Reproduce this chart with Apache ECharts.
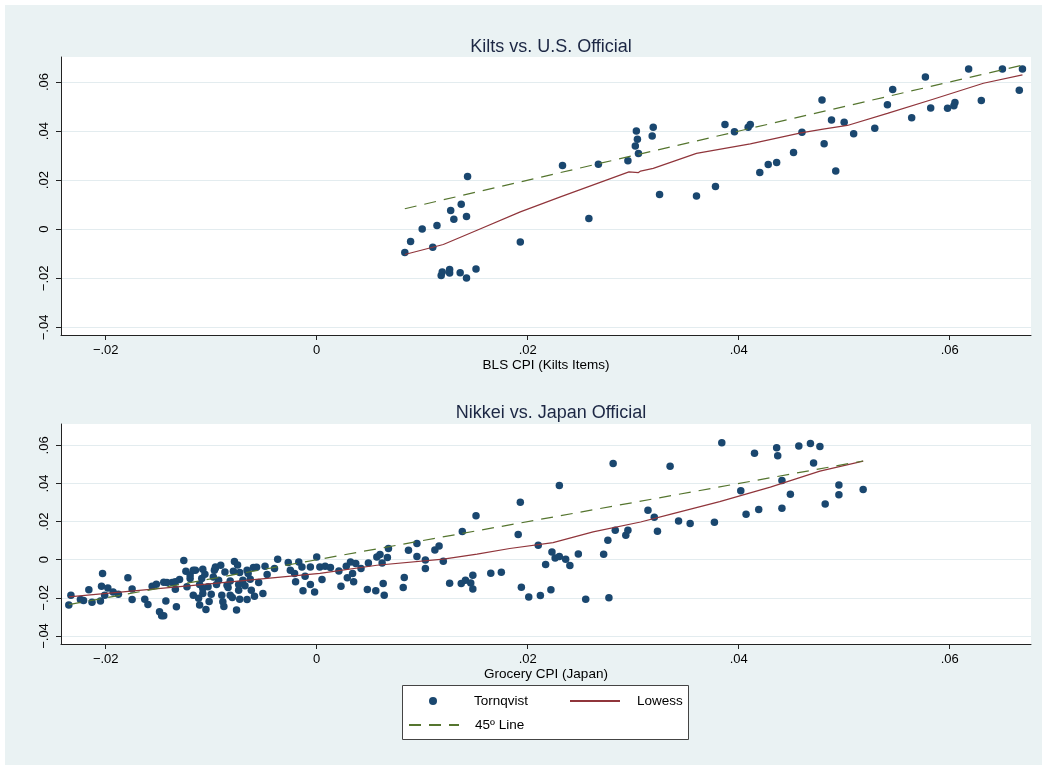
<!DOCTYPE html>
<html><head><meta charset="utf-8">
<script src="https://cdn.jsdelivr.net/npm/echarts@6/dist/echarts.min.js"></script>
<style>html,body{margin:0;padding:0;background:#fff}#c{width:1047px;height:769px}</style>
</head><body><div id="c"></div>
<script>
// ---- tick labels ----
const tickValues = [-0.04, -0.02, 0, 0.02, 0.04, 0.06];
const tickLabels = ['\u2212.04', '\u2212.02', '0', '.02', '.04', '.06'];
const xTickValues = [-0.02, 0, 0.02, 0.04, 0.06];

// ---- panel titles / axis titles / legend ----
const panelTitles = ['Kilts vs. U.S. Official', 'Nikkei vs. Japan Official'];
const xAxisTitles = ['BLS CPI (Kilts Items)', 'Grocery CPI (Japan)'];
const seriesNames = ['Tornqvist', 'Lowess', '45\u00ba Line'];

// ---- Kilts vs. U.S. Official: [BLS CPI, Kilts] ----
const kiltsPoints = [
 [0.00835,-0.0095],[0.0089,-0.0050],[0.0100,0.0001],[0.0114,0.0015],[0.0110,-0.0073],
 [0.0127,0.0076],[0.0130,0.0041],[0.0137,0.0102],[0.0142,0.0052],[0.0143,0.0215],
 [0.0118,-0.0189],[0.0119,-0.0174],[0.0126,-0.0164],[0.0126,-0.0178],[0.0136,-0.0177],
 [0.0142,-0.0199],[0.0151,-0.0162],[0.0193,-0.0052],[0.0233,0.0260],[0.0258,0.0044],
 [0.0267,0.0265],[0.0295,0.0279],[0.0305,0.0309],[0.0325,0.0142],[0.0360,0.0136],
 [0.0303,0.0400],[0.0304,0.0367],[0.0302,0.0339],[0.0319,0.0416],[0.0318,0.0380],
 [0.0378,0.0174],[0.0387,0.0427],[0.0396,0.0397],[0.0409,0.0416],[0.0411,0.0427],
 [0.0420,0.0231],[0.0428,0.0264],[0.0436,0.0272],[0.0452,0.0313],[0.0460,0.0395],
 [0.0479,0.0527],[0.0481,0.0348],[0.0488,0.0445],[0.0492,0.0237],[0.0500,0.0436],
 [0.0509,0.0389],[0.0529,0.0412],[0.0541,0.0507],[0.0546,0.0570],[0.0564,0.0454],
 [0.0577,0.0620],[0.0582,0.0494],[0.0598,0.0493],[0.0604,0.0503],[0.0605,0.0517],
 [0.0618,0.0653],[0.0630,0.0525],[0.0650,0.0653],[0.0666,0.0566],[0.0669,0.0653]
];
const kiltsLowess = [
 [0.00835,-0.0103],[0.0120,-0.0062],[0.0152,-0.0004],[0.0193,0.0071],[0.0231,0.0132],
 [0.0296,0.0234],[0.0305,0.0231],[0.0307,0.0237],[0.0319,0.0248],[0.0360,0.0309],
 [0.0411,0.0348],[0.0459,0.0393],[0.0480,0.0408],[0.0503,0.0423],[0.0541,0.0472],
 [0.0585,0.0531],[0.0632,0.0595],[0.0669,0.0629]
];
const kiltsDiagonal = [[0.00835,0.00835],[0.0669,0.0669]];

// ---- Nikkei vs. Japan Official: [Grocery CPI, Nikkei] ----
const nikkeiPoints = [
 [-0.0235,-0.0238],[-0.0233,-0.0186],[-0.0224,-0.0208],[-0.0221,-0.0214],[-0.0216,-0.0158],
 [-0.0213,-0.0223],[-0.0205,-0.0217],[-0.0203,-0.0072],[-0.0204,-0.0139],[-0.0201,-0.0186],
 [-0.0198,-0.0148],[-0.0193,-0.0169],[-0.0188,-0.0181],[-0.0179,-0.0095],[-0.0175,-0.0153],
 [-0.0175,-0.0208],[-0.0163,-0.0207],[-0.0160,-0.0235],[-0.0156,-0.0139],[-0.0152,-0.0128],
 [-0.0149,-0.0273],[-0.0147,-0.0294],[-0.0145,-0.0294],[-0.0143,-0.0217],[-0.0145,-0.0118],
 [-0.0142,-0.0119],[-0.0137,-0.0119],[-0.0134,-0.0155],[-0.0133,-0.0247],[-0.0130,-0.0104],
 [-0.0126,-0.0004],[-0.0124,-0.0060],[-0.0120,-0.0080],[-0.0117,-0.0186],[-0.0115,-0.0055],
 [-0.0112,-0.0202],[-0.0111,-0.0238],[-0.0109,-0.0098],[-0.0108,-0.0151],[-0.0105,-0.0261],
 [-0.0102,-0.0219],[-0.0106,-0.0076],[-0.0100,-0.0181],[-0.0097,-0.0055],[-0.0096,-0.0038],
 [-0.0093,-0.0107],[-0.0091,-0.0029],[-0.0090,-0.0186],[-0.0088,-0.0245],[-0.0087,-0.0064],
 [-0.0084,-0.0146],[-0.0082,-0.0111],[-0.0080,-0.0198],[-0.0078,-0.0009],[-0.0076,-0.0264],
 [-0.0075,-0.0027],[-0.0074,-0.0160],[-0.0073,-0.0207],[-0.0070,-0.0107],[-0.0068,-0.0137],
 [-0.0066,-0.0208],[-0.0065,-0.0072],[-0.0062,-0.0160],[-0.0060,-0.0041],[-0.0059,-0.0191],
 [-0.0055,-0.0119],[-0.0051,-0.0177],[-0.0049,-0.0034],[-0.0047,-0.0078],
 [-0.0117,-0.0055],[-0.0108,-0.0050],[-0.0096,-0.0043],[-0.0098,-0.0090],[-0.0079,-0.0060],
 [-0.0073,-0.0067],[-0.0066,-0.0055],[-0.0063,-0.0102],[-0.0057,-0.0039],[-0.0108,-0.0177],
 [-0.0089,-0.0221],[-0.0082,-0.0186],[-0.0134,-0.0116],[-0.0123,-0.0142],[-0.0120,-0.0098],
 [-0.0111,-0.0130],[-0.0103,-0.0142],[-0.0095,-0.0130],[-0.0085,-0.0134],[-0.0074,-0.0130],
 [-0.0040,-0.0046],[-0.0037,0.0003],[-0.0027,-0.0015],[-0.0025,-0.0055],[-0.0021,-0.0072],
 [-0.0020,-0.0116],[-0.0017,-0.0012],[-0.0014,-0.0038],[-0.0013,-0.0163],[-0.0011,-0.0086],
 [-0.0006,-0.0038],[-0.0006,-0.0130],[-0.0002,-0.0169],[0.0000,0.0015],[0.0003,-0.0038],
 [0.0005,-0.0104],[0.0008,-0.0034],[0.0013,-0.0041],[0.0021,-0.0059],[0.0023,-0.0139],
 [0.0028,-0.0034],[0.0029,-0.0095],[0.0032,-0.0012],[0.0034,-0.0072],[0.0035,-0.0116],
 [0.0037,-0.0020],[0.0042,-0.0046],[0.0048,-0.0156],[0.0049,-0.0017],[0.0056,-0.0163],
 [0.0057,0.0015],[0.0060,0.0027],[0.0062,-0.0017],[0.0063,-0.0125],[0.0064,-0.0186],
 [0.0067,0.0012],[0.0068,0.0059],
 [0.0082,-0.0146],[0.0083,-0.0093],[0.0087,0.0050],[0.0095,0.0085],[0.0095,0.0017],
 [0.0103,-0.0001],[0.0103,-0.0046],[0.0112,0.0051],[0.0116,0.0072],[0.0120,-0.0008],
 [0.0126,-0.0123],[0.0137,-0.0125],[0.0141,-0.0107],[0.0148,-0.0081],[0.0146,-0.0122],
 [0.0148,-0.0153],[0.0138,0.0148],[0.0151,0.0231],[0.0165,-0.0071],[0.0175,-0.0065],
 [0.0193,0.0301],[0.0191,0.0132],[0.0194,-0.0144],[0.0201,-0.0195],[0.0210,0.0076],
 [0.0212,-0.0187],[0.0217,-0.0025],[0.0222,-0.0158],[0.0223,0.0041],[0.0226,0.0009],
 [0.0230,0.0017],[0.0230,0.0390],[0.0236,0.0003],[0.0240,-0.0030],[0.0248,0.0030],
 [0.0255,-0.0207],[0.0272,0.0029],[0.0276,0.0102],[0.0277,-0.0200],[0.0283,0.0155],
 [0.0281,0.0505],
 [0.0293,0.0128],[0.0295,0.0155],[0.0314,0.0259],[0.0320,0.0223],[0.0323,0.0149],
 [0.0335,0.0490],[0.0343,0.0203],[0.0354,0.0190],[0.0377,0.0196],[0.0384,0.0614],
 [0.0402,0.0362],[0.0407,0.0238],[0.0415,0.0558],[0.0419,0.0263],[0.0436,0.0587],
 [0.0437,0.0546],[0.0441,0.0416],[0.0441,0.0270],[0.0449,0.0343],[0.0457,0.0596],
 [0.0468,0.0610],[0.0471,0.0507],[0.0477,0.0594],[0.0482,0.0292],[0.0495,0.0392],
 [0.0495,0.0341],[0.0518,0.0369]
];
const nikkeiLowess = [
 [-0.0235,-0.0195],[-0.0117,-0.0134],[0.0003,-0.0072],[0.0057,-0.0029],[0.0120,0.0003],
 [0.0152,0.0029],[0.0183,0.0059],[0.0224,0.0090],[0.0262,0.0146],[0.0307,0.0198],
 [0.0335,0.0238],[0.0382,0.0305],[0.0430,0.0381],[0.0477,0.0465],[0.0518,0.0517]
];
const nikkeiDiagonal = [[-0.0235,-0.0235],[0.0518,0.0518]];

// ---- styling ----
const FONT = 'Liberation Sans, Arial, Helvetica, sans-serif';
const C_MARK = '#1a476f', C_LOW = '#90353b', C_DIAG = '#55752f';
const C_BG = '#eaf2f3', C_AXIS = '#222', C_GRID = '#e3ecef';

function fmtTick(v) {
  for (let i = 0; i < tickValues.length; i++) {
    if (Math.abs(v - tickValues[i]) < 1e-9) return tickLabels[i];
  }
  return '';
}

function xAxisDef(idx, name) {
  return {
    type: 'value', gridIndex: idx, min: -0.02424, max: 0.06771,
    name: name, nameLocation: 'middle', nameGap: 22,
    nameTextStyle: {fontFamily: FONT, fontSize: 13.5, color: '#000'},
    axisLine: {show: true, onZero: false, lineStyle: {color: C_AXIS, width: 1}},
    axisTick: {show: true, length: 5, lineStyle: {color: C_AXIS}, customValues: xTickValues},
    axisLabel: {customValues: xTickValues, formatter: fmtTick, margin: 9,
      fontFamily: FONT, fontSize: 13, color: '#000'},
    splitLine: {show: false}
  };
}
function yAxisDef(idx, mn, mx) {
  return {
    type: 'value', gridIndex: idx, min: mn, max: mx,
    axisLine: {show: true, onZero: false, lineStyle: {color: C_AXIS, width: 1}},
    axisTick: {show: true, length: 5, lineStyle: {color: C_AXIS}, customValues: tickValues},
    axisLabel: {customValues: tickValues, formatter: fmtTick, rotate: 90, margin: 10,
      fontFamily: FONT, fontSize: 13, color: '#000'},
    splitLine: {show: true, lineStyle: {color: C_GRID, width: 1}}
  };
}
function panelSeries(idx, pts, low, diag) {
  return [
    {name: seriesNames[0], type: 'scatter', xAxisIndex: idx, yAxisIndex: idx, data: pts,
     symbol: 'circle', symbolSize: 7.5, itemStyle: {color: C_MARK, opacity: 1}, z: 2},
    {name: seriesNames[1], type: 'line', xAxisIndex: idx, yAxisIndex: idx, data: low,
     symbol: 'none', lineStyle: {color: C_LOW, width: 1.2}, itemStyle: {color: C_LOW}, z: 3},
    {name: seriesNames[2], type: 'line', xAxisIndex: idx, yAxisIndex: idx, data: diag,
     symbol: 'none', lineStyle: {color: C_DIAG, width: 1.2, type: [12, 8]}, itemStyle: {color: C_DIAG}, z: 4}
  ];
}
function legendDef(name, left, top, w, h, pad, hideSymbol) {
  const d = {
    data: [name], left: left, top: top, itemWidth: w, itemHeight: h,
    selectedMode: false, padding: 0, z: 20,
    textStyle: {fontFamily: FONT, fontSize: 13.5, color: '#000', padding: [0, 0, 0, pad]}
  };
  if (hideSymbol) d.itemStyle = {opacity: 0};
  return d;
}

const chart = echarts.init(document.getElementById('c'), null, {renderer: 'canvas'});
chart.setOption({
  animation: false,
  backgroundColor: '#ffffff',
  textStyle: {fontFamily: FONT},
  graphic: [
    {type: 'rect', z: -10, shape: {x: 5, y: 5, width: 1037, height: 760}, style: {fill: C_BG}},
    {type: 'rect', z: 0, shape: {x: 402.5, y: 685.5, width: 286, height: 54},
     style: {fill: '#ffffff', stroke: '#444', lineWidth: 1}}
  ],
  title: [
    {text: panelTitles[0], left: 546, top: 33, textAlign: 'center',
     textStyle: {fontFamily: FONT, fontSize: 18, fontWeight: 'normal', color: '#1c2744'}},
    {text: panelTitles[1], left: 546, top: 399, textAlign: 'center',
     textStyle: {fontFamily: FONT, fontSize: 18, fontWeight: 'normal', color: '#1c2744'}}
  ],
  grid: [
    {left: 61, top: 57, width: 970, height: 278, show: true, backgroundColor: '#fff', borderWidth: 0},
    {left: 61, top: 424, width: 970, height: 220, show: true, backgroundColor: '#fff', borderWidth: 0}
  ],
  xAxis: [xAxisDef(0, xAxisTitles[0]), xAxisDef(1, xAxisTitles[1])],
  yAxis: [yAxisDef(0, -0.0431, 0.0702), yAxisDef(1, -0.0442, 0.0712)],
  legend: [
    legendDef(seriesNames[0], 429, 694, 8, 8, 32, false),
    legendDef(seriesNames[1], 569, 694, 50, 8, 12, true),
    legendDef(seriesNames[2], 408, 718, 50, 8, 11, true)
  ],
  series: [].concat(
    panelSeries(0, kiltsPoints, kiltsLowess, kiltsDiagonal),
    panelSeries(1, nikkeiPoints, nikkeiLowess, nikkeiDiagonal)
  )
});
</script>
</body></html>
